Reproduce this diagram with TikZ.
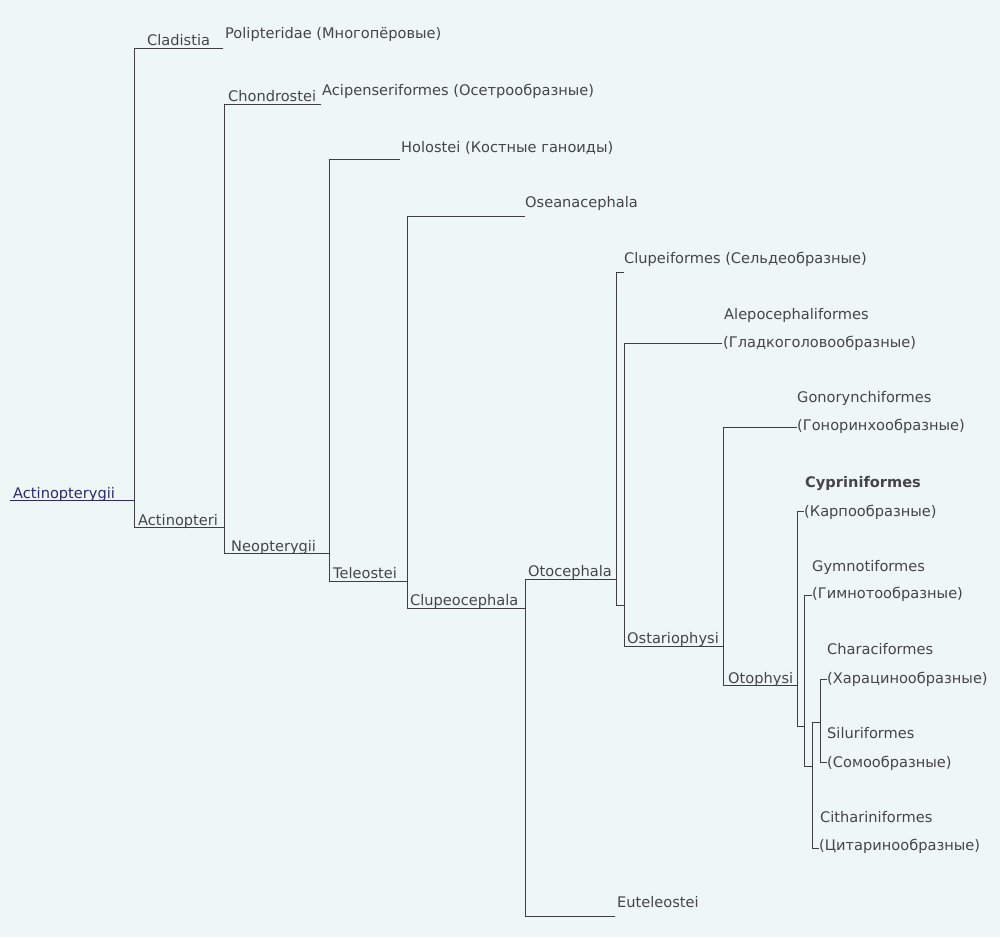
\documentclass[tikz,border=0pt]{standalone}
\usepackage{fontspec}
\setmainfont{DejaVu Sans}
\definecolor{bg}{HTML}{EFF6F6}
\definecolor{ln}{HTML}{3F3F3F}
\definecolor{tx}{HTML}{454545}
\definecolor{navy}{HTML}{2B2B6B}
\begin{document}
\begin{tikzpicture}[x=1pt,y=-1pt,
  lbl/.style={anchor=base west, inner sep=0pt, text=tx, font=\fontsize{14.6}{16}\selectfont},
  br/.style={draw=ln, line width=1pt, line join=miter}]
\fill[bg] (0,0) rectangle (1000,937);
\useasboundingbox (0,0) rectangle (1000,937);

% ---- coordinates of the branches
\coordinate (r0) at (10,500);   \coordinate (r1) at (134,500);
\coordinate (a1e) at (223,48);  \coordinate (a1) at (134,48);  \coordinate (a2) at (134,527); \coordinate (a2e) at (224,527);
\coordinate (b1e) at (321,104); \coordinate (b1) at (224,104); \coordinate (b2) at (224,553); \coordinate (b2e) at (329,553);
\coordinate (c1e) at (400,159); \coordinate (c1) at (329,159); \coordinate (c2) at (329,581); \coordinate (c2e) at (407,581);
\coordinate (d1e) at (525,216); \coordinate (d1) at (407,216); \coordinate (d2) at (407,608); \coordinate (d2e) at (525,608);
\coordinate (e1e) at (616,579); \coordinate (e1) at (525,579); \coordinate (e2) at (525,916); \coordinate (e2e) at (615,916);
\coordinate (f1e) at (624,272); \coordinate (f1) at (616,272); \coordinate (f2) at (616,605); \coordinate (f2e) at (624,605);
\coordinate (g1e) at (722,343); \coordinate (g1) at (624,343); \coordinate (g2) at (624,646); \coordinate (g2e) at (723,646);
\coordinate (h1e) at (797,427); \coordinate (h1) at (723,427); \coordinate (h2) at (723,685); \coordinate (h2e) at (797,685);
\coordinate (i1e) at (804,511); \coordinate (i1) at (797,511); \coordinate (i2) at (797,726); \coordinate (i2e) at (804,726);
\coordinate (j1e) at (812,595); \coordinate (j1) at (804,595); \coordinate (j2) at (804,766); \coordinate (j2e) at (812,766);
\coordinate (k1e) at (820,722); \coordinate (k1) at (812,722); \coordinate (k2) at (812,848); \coordinate (k2e) at (819,848);
\coordinate (l1e) at (827,679); \coordinate (l1) at (820,679); \coordinate (l2) at (820,762); \coordinate (l2e) at (827,762);

\draw[br, draw=navy] (r0) -- (r1);
\foreach \p in {a,b,c,d,e,f,g,h,i,j,k,l}
  \draw[br] (\p1e) -- (\p1) -- (\p2) -- (\p2e);

% ---- labels
\node[lbl, text=navy] (actinopterygii) at (13,498) {Actinopterygii};
\node[lbl] (cladistia) at (147,45) {Cladistia};
\node[lbl] (polipteridae) at (225,38) {Polipteridae (Многопёровые)};
\node[lbl] (actinopteri) at (138,525) {Actinopteri};
\node[lbl] (chondrostei) at (228,101) {Chondrostei};
\node[lbl] (acipenser) at (322,95) {Acipenseriformes (Осетрообразные)};
\node[lbl] (neopterygii) at (231,551) {Neopterygii};
\node[lbl] (holostei) at (401,152) {Holostei (Костные ганоиды)};
\node[lbl] (teleostei) at (333,578) {Teleostei};
\node[lbl] (oseanacephala) at (525,207) {Oseanacephala};
\node[lbl] (clupeocephala) at (410,605) {Clupeocephala};
\node[lbl] (otocephala) at (528,576) {Otocephala};
\node[lbl] (euteleostei) at (617,907) {Euteleostei};
\node[lbl] (clupeiformes) at (624,263) {Clupeiformes (Сельдеобразные)};
\node[lbl] (alepo1) at (724,319) {Alepocephaliformes};
\node[lbl] (alepo2) at (723,347) {(Гладкоголовообразные)};
\node[lbl] (ostariophysi) at (627,643) {Ostariophysi};
\node[lbl] (gono1) at (797,402) {Gonorynchiformes};
\node[lbl] (gono2) at (797,430) {(Гоноринхообразные)};
\node[lbl] (otophysi) at (728,683) {Otophysi};
\node[lbl, font=\fontsize{14.6}{16}\selectfont\bfseries] (cypr1) at (805,487) {Cypriniformes};
\node[lbl] (cypr2) at (804,516) {(Карпообразные)};
\node[lbl] (gymno1) at (812,571) {Gymnotiformes};
\node[lbl] (gymno2) at (812,598) {(Гимнотообразные)};
\node[lbl] (chara1) at (827,654) {Characiformes};
\node[lbl] (chara2) at (827,683) {(Харацинообразные)};
\node[lbl] (silur1) at (827,738) {Siluriformes};
\node[lbl] (silur2) at (827,767) {(Сомообразные)};
\node[lbl] (cith1) at (820,822) {Cithariniformes};
\node[lbl] (cith2) at (819,850) {(Цитаринообразные)};
\end{tikzpicture}
\end{document}
